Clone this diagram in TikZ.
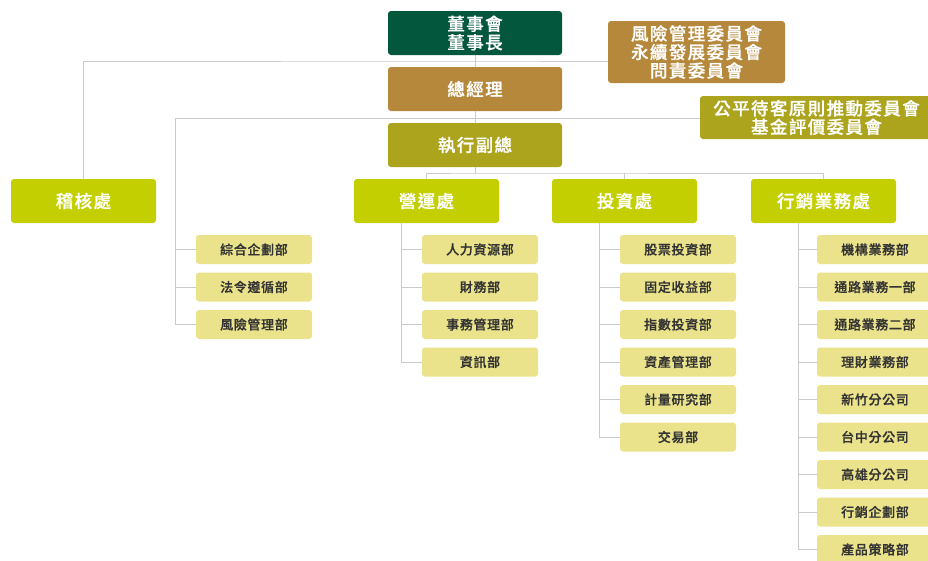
\documentclass[tikz,border=0pt]{standalone}
\usepackage{fontspec}
\setmainfont{Noto Sans CJK TC}
\newfontfamily\spcjk{Noto Sans CJK TC Medium}[LetterSpace=8,FakeBold=0.8]
\newfontfamily\spcjksub{Noto Sans CJK TC Medium}[LetterSpace=5,FakeBold=0.8]
\definecolor{cgreen}{HTML}{03573D}
\definecolor{cbrown}{HTML}{B5883C}
\definecolor{colive}{HTML}{ACA41C}
\definecolor{clime}{HTML}{C3CF00}
\definecolor{cpale}{HTML}{EBE38B}
\definecolor{cline}{HTML}{CACACA}
\definecolor{ctext}{HTML}{333333}
\tikzset{
  bigbox/.style={rounded corners=3pt, inner sep=0pt, align=center, text=white,
    font=\spcjk\fontsize{17.5}{18.5}\selectfont},
  topbox/.style={bigbox, minimum width=174pt, minimum height=44pt},
  divbox/.style={bigbox, fill=clime, minimum width=145pt, minimum height=44pt},
  subbox/.style={rounded corners=3pt, inner sep=0pt, fill=cpale, text=ctext,
    minimum width=116pt, minimum height=29pt, font=\spcjksub\fontsize{13}{14}\selectfont},
  conn/.style={draw=cline, line width=1pt}
}
\begin{document}
\begin{tikzpicture}[x=1pt,y=-1pt]
\useasboundingbox (0,0) rectangle (928,560);
\clip (0,0) rectangle (928,560);
% top chain
\node[topbox, fill=cgreen] (dsh) at (475,33) {董事會\\董事長};
\node[topbox, fill=cbrown] (gm) at (475,89) {總經理};
\node[topbox, fill=colive] (evp) at (475,145) {執行副總};
\node[bigbox, fill=cbrown, minimum width=177pt, minimum height=62pt] (comm) at (696.5,52) {風險管理委員會\\永續發展委員會\\問責委員會};
\node[bigbox, fill=colive, minimum width=233pt, minimum height=43pt] (fair) at (816.5,117.5) {公平待客原則推動委員會\\基金評價委員會};
% divisions
\node[divbox] (audit) at (83.5,201) {稽核處};
\node[divbox] (ops) at (426.5,201) {營運處};
\node[divbox] (inv) at (624.5,201) {投資處};
\node[divbox] (mkt) at (823.5,201) {行銷業務處};
% left column under GM
\node[subbox] (l1) at (254,249.5) {綜合企劃部};
\node[subbox] (l2) at (254,287) {法令遵循部};
\node[subbox] (l3) at (254,324.5) {風險管理部};
% ops
\node[subbox] (o1) at (480,249.5) {人力資源部};
\node[subbox] (o2) at (480,287) {財務部};
\node[subbox] (o3) at (480,324.5) {事務管理部};
\node[subbox] (o4) at (480,362) {資訊部};
% inv
\node[subbox] (i1) at (678,249.5) {股票投資部};
\node[subbox] (i2) at (678,287) {固定收益部};
\node[subbox] (i3) at (678,324.5) {指數投資部};
\node[subbox] (i4) at (678,362) {資產管理部};
\node[subbox] (i5) at (678,399.5) {計量研究部};
\node[subbox] (i6) at (678,437) {交易部};
% mkt
\node[subbox] (m1) at (875,249.5) {機構業務部};
\node[subbox] (m2) at (875,287) {通路業務一部};
\node[subbox] (m3) at (875,324.5) {通路業務二部};
\node[subbox] (m4) at (875,362) {理財業務部};
\node[subbox] (m5) at (875,399.5) {新竹分公司};
\node[subbox] (m6) at (875,437) {台中分公司};
\node[subbox] (m7) at (875,474.5) {高雄分公司};
\node[subbox] (m8) at (875,512) {行銷企劃部};
\node[subbox] (m9) at (875,549.5) {產品策略部};
% junctions
\coordinate (j1) at (475,61);
\coordinate (j2) at (475,118);
\coordinate (j3) at (475,173);
\coordinate (lc) at (175,118);
\coordinate (oc) at (401,223);
\coordinate (ic) at (599,223);
\coordinate (mc) at (798,223);
% connectors
\path[conn] (dsh.south) -- (gm.north);
\path[conn] (gm.south) -- (evp.north);
\path[conn] (audit.north) |- (j1) -- (j1 -| comm.west);
\path[conn] (j2) -- (j2 -| fair.west);
\path[conn] (j2) -- (lc) |- (l3.west);
\path[conn] (lc |- l1) -- (l1.west);
\path[conn] (lc |- l2) -- (l2.west);
\path[conn] (evp.south) -- (j3);
\path[conn] (ops.north) |- (j3) -| (mkt.north);
\path[conn] (inv.north) -- (inv.north |- j3);
\path[conn] (oc) |- (o4.west);
\foreach \n in {o1,o2,o3} \path[conn] (oc |- \n) -- (\n.west);
\path[conn] (ic) |- (i6.west);
\foreach \n in {i1,i2,i3,i4,i5} \path[conn] (ic |- \n) -- (\n.west);
\path[conn] (mc) |- (m9.west);
\foreach \n in {m1,m2,m3,m4,m5,m6,m7,m8} \path[conn] (mc |- \n) -- (\n.west);
\end{tikzpicture}
\end{document}
